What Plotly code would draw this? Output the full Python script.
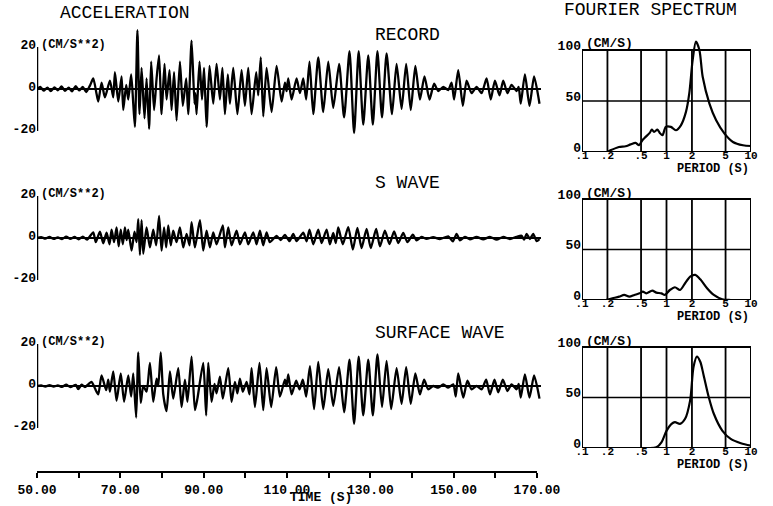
import plotly.graph_objects as go

W, H = 773, 506

# ---------------- data ----------------
# acceleration traces: time (s) and amplitude (cm/s**2) at the visible turning points
record_t = [50.0, 50.8, 51.6, 52.5, 53.3, 54.2, 55.0, 55.9, 56.7, 57.6, 58.4, 59.3, 60.1, 61.0, 61.8, 62.7,
            63.5, 64.3, 64.7, 65.5, 66.3, 67.5, 68.3, 68.7, 69.5, 70.3, 70.7, 71.4, 71.9, 72.6, 73.1, 73.5,
            74.1, 74.6, 75.1, 75.8, 76.3, 76.9, 77.4, 78.1, 78.7, 79.3, 79.9, 80.6, 81.1, 81.8, 82.3, 82.9,
            83.5, 84.3, 85.0, 85.8, 86.3, 87.1, 87.8, 88.0, 88.3, 89.0, 89.6, 90.1, 90.7, 91.4, 92.3, 93.1,
            93.9, 94.5, 95.1, 95.8, 96.3, 97.1, 98.1, 99.1, 99.9, 100.7, 101.5, 102.6, 103.1, 103.7, 104.3, 105.1,
            106.3, 107.5, 108.7, 109.5, 109.9, 110.3, 111.1, 112.3, 113.1, 113.9, 114.6, 115.4, 116.3, 117.5,
            118.7, 119.9, 121.1, 122.5, 123.7, 125.0, 126.1, 127.2, 128.3, 129.5, 130.6, 131.7, 132.8, 133.9,
            135.2, 136.3, 137.5, 138.6, 139.7, 140.8, 141.9, 143.0, 144.2, 145.3, 146.3, 147.5, 148.7, 149.5,
            150.1, 151.1, 152.2, 153.1, 154.3, 155.5, 156.7, 157.9, 158.9, 159.9, 161.0, 161.9, 162.9, 163.9,
            165.1, 165.6, 166.1, 167.1, 168.2, 169.3, 170.6]
record_a = [0, 1.0, -0.8, 0.7, -1.0, 0.8, -0.6, 1.2, -0.9, 0.6, -1.1, 1.4, -0.7, 1.0, -1.5, 1.6,
            5, -2.4, -6, 3, -4, 4, -4, 8, -6, 6, -10, 2, -5, 7, -7, -18,
            28, -12, 10, -14, 5, -19, 13, -10, 5, 16, -12, 12, -5, 9, -10, 8,
            -15, 13, -8, 5, -12, 23, -7, -2, -12, 13, -5, 10, -18, 11, -7, 12,
            -5, 10, -12, 7, -7, 10, -12, 9, -8, 10, -12, 8, -3, 15, -13, 10,
            -11, 11, -6, 3, -1, 5, -5, 5, -2, 5, -5, 13, -12, 15,
            -11, 13, -9, 12, -13.5, 18, -21, 18, -17, 16, -17, 18, -13.5, 17,
            -12, 12, -9.5, 12, -10, 11, -5, 6, -5, 2.5, -1, 1, -0.5, 3,
            -5, 9, -8, 4, -2, 1, -2, 5, -5, 4, -3, 4, -2, 2,
            -1, 1, -7, 7, -8, 6, -7]

swave_t = [50, 51, 52, 53, 54, 55, 56, 57, 58, 59, 60, 61, 62,
           63.5, 64.1, 65.1, 65.9, 66.7, 67.4, 67.9, 68.5, 69.1, 69.6, 70.1, 70.6, 71.1, 71.5, 71.9, 72.7,
           73.4, 73.9, 74.3, 74.7, 75.1, 75.5, 76.3, 77.1, 77.9, 78.6, 79.3, 79.9, 80.5, 81.0, 81.5, 82.1,
           82.7, 83.5, 84.3, 85.1, 85.9, 86.6, 87.1, 87.9, 89.1, 89.9, 90.7, 91.5, 92.3, 93.1, 94.6, 95.1,
           95.9, 96.7, 97.9, 98.7, 99.9, 100.7, 101.9, 102.7, 103.5, 104.3, 105.1, 105.9,
           107.5, 108.5, 109.5, 110.6, 111.5, 112.3, 113.9, 114.7, 115.4, 116.3, 117.5, 118.3, 119.5, 120.3,
           121.1, 121.7, 122.3, 123.4, 124.7, 125.8, 126.9, 127.9, 129.1, 130.1, 131.4, 132.3, 133.5, 134.6,
           135.7, 136.7, 137.9, 138.9, 140.2, 141.1, 142.3, 143.5, 145.1, 146.7, 148.7, 149.8, 150.7, 151.5,
           152.7, 153.9, 155.5, 157.1, 158.7, 160.3, 161.9, 163.5, 165.1, 166.3, 166.9, 167.5, 168.3, 169.1,
           169.9, 170.6]
swave_a = [0, 0.4, -0.3, 0.5, -0.4, 0.3, -0.5, 0.6, -0.4, 0.5, -0.6, 0.7, -0.8,
           2.7, -2, 3, -2.5, 2.5, -3, 4, -2, 5, -4, 4, -3, 5, -1, 4, -6,
           3, -2, 9, -8, 8.5, -7.5, 5, -4.5, 4, -3.5, 10.5, -6, 5, -4.5, 6, -3.5,
           3.5, -2, 5, -4.5, 2, -3.5, 7.5, -4.5, 8.5, -6, 3.5, -4.5, 2.7, -3, 6, -4.5,
           5, -3.5, 3.5, -3, 2.7, -3, 2.7, -3, 3.5, -3.5, 2.7, -2,
           1, -1, 1.5, -1.5, 2, -1.5, 2.5, -1.6, 4, -3, 4, -2.4, 4, -3,
           2.4, -2.4, 5, -3, 5.2, -5.5, 4.8, -4.8, 4.3, -4.8, 4.3, -4, 3.5, -2.9,
           3.2, -2.4, 2.4, -2, 1.6, -1.1, 0.5, -0.4, 0.4, -0.5, 0.8, -1.6, 2, -1.1,
           0.5, -0.6, 0.5, -0.6, 0.5, -0.8, 0.5, -0.5, 0.6, 1.1, -0.8, 2, -0.5, 2,
           -1.5, -0.5]

surface_t = [50, 51, 52, 53, 54, 55, 56, 57, 58, 59.3, 59.9, 60.7, 61.5, 62.3,
             63.1, 63.9, 64.7, 65.5, 66.6, 67.1, 67.5, 68.3, 69.1, 70.1, 70.9, 71.9, 72.6, 73.1, 73.8,
             74.3, 74.9, 75.5, 76.3, 77.1, 77.9, 78.7, 79.1, 79.7, 80.3, 81.1, 81.9, 82.7, 83.9, 84.7,
             85.5, 86.1, 87.1, 87.9, 88.5, 89.9, 90.6, 91.1, 91.9, 92.6, 93.1, 93.9, 94.6, 95.9, 96.7,
             97.5, 98.1, 98.7, 99.4, 100.3, 101.0, 101.5, 102.3, 103.4, 104.3, 105.1, 106.2,
             107.4, 108.3, 109.5, 109.9, 110.3, 111.1, 112.2, 113.0, 113.8, 114.6, 115.5, 116.5, 117.5, 118.7,
             119.9, 121.1, 122.5, 123.7, 125.0, 126.1, 127.2, 128.3, 129.5, 130.6, 131.7, 132.8, 133.9, 135.0,
             136.3, 137.5, 138.6, 139.7, 140.8, 141.9, 142.9, 143.9, 145.1, 146.3, 147.5, 148.7, 149.9, 150.5,
             151.1, 152.3, 153.3, 154.3, 155.5, 156.7, 157.8, 158.7, 159.8, 160.7, 161.8, 162.9, 163.9, 165.1,
             165.6, 166.1, 167.1, 168.2, 169.3, 170.6]
surface_a = [0, 0.3, -0.3, 0.4, -0.3, 0.3, -0.4, 0.6, -0.5, 0.5, -1.5, 0.6, -0.5, 0.8,
             2, -1.1, -4, 5, -2, 3, -2.7, 7, -7, 6, -7.5, 5, -5, 6, -15,
             16, -8, 0, -2.7, 11, -7.5, 3.5, 0, 16, -4, -12, 7, -6, 8.5, -10,
             3, -7.5, 14, -11.5, -6, 11, -14, 11, -7.5, 1, -3.5, 4.5, -6, 8.5, -7.5,
             2, -3.5, 3.5, -2.7, 2, -4, 8.5, -10, 11, -11.5, 8.5, -10,
             9, -5, 3, 0, 5.5, -4, 2.5, -1.6, 3, -5, 9.5, -11, 11.5, -11,
             8, -9.5, 9, -12.5, 12.5, -18, 14, -14, 12.5, -14, 15, -10, 12, -11,
             8.5, -8.5, 9, -8.5, 6, -4, 3, -1.6, 0, -0.8, 0.8, -0.8, 0.8, -5,
             6, -5.5, 2.5, -1.6, 0, -1.6, 3, -4, 3, -3, 3, -2.4, 0.8, -1.6,
             1, -5.5, 5.5, -5.5, 5, -6]

# Fourier spectra: period (s) and amplitude (cm/s)
spec_record_T = [0.199, 0.217, 0.273, 0.328, 0.376, 0.431, 0.473, 0.518, 0.567, 0.633, 0.669, 0.713, 0.781,
                 0.833, 0.896, 0.982, 1.127, 1.29, 1.48, 1.70, 1.86, 2.04, 2.23, 2.45, 2.68, 3.22, 3.87,
                 4.86, 6.11, 8.03, 10.0]
spec_record_A = [0, 1.6, 4.9, 5.6, 7.5, 8.9, 6.6, 11.5, 14.8, 18.7, 21.9, 19.7, 21.9,
                 18.7, 16.4, 24.6, 24.6, 21.3, 26.2, 39.3, 57.4, 90.2, 108.2, 100, 73.8, 47.5, 31.1,
                 18, 9.8, 6.6, 5.9]
spec_swave_T = [0.191, 0.229, 0.275, 0.316, 0.363, 0.417, 0.479, 0.525, 0.575, 0.679, 0.759, 0.871, 0.955,
                1.096, 1.259, 1.445, 1.66, 1.905, 2.19, 2.51, 3.02, 3.63, 4.57, 5.75, 10.0]
spec_swave_A = [0, 1.7, 3.3, 5, 3.3, 5, 6.6, 8.3, 6.6, 9.3, 7.3, 6.6, 5,
                9.9, 12.6, 9.9, 16.6, 23.2, 24.8, 20.5, 11.6, 5, 0.7, 0, 0]
spec_surface_T = [0.631, 0.759, 0.871, 1.0, 1.148, 1.259, 1.445, 1.66, 1.905, 2.09, 2.29, 2.51, 2.75,
                  3.16, 3.63, 4.57, 5.75, 7.59, 10.0]
spec_surface_A = [0, 0.7, 5.6, 17, 23.9, 25.6, 23.9, 28.9, 47.2, 80.4, 90.4, 85.4, 72.1,
                  50.5, 33.9, 17.3, 9, 4.7, 2.3]

time_ticks = [50, 60, 70, 80, 90, 100, 110, 120, 130, 140, 150, 160, 170]
time_ticklabels = ["50.00", "", "70.00", "", "90.00", "", "110.00", "", "130.00", "", "150.00", "", "170.00"]
amp_ticks = [-20, 0, 20]
amp_ticklabels = ["-20", "0", "20"]
period_ticks = [0.1, 0.2, 0.5, 1, 2, 5, 10]
period_ticklabels = [".1", ".2", ".5", "1", "2", "5", "10"]
period_grid = [0.2, 0.5, 1, 2, 5]
spec_ticks = [0, 50, 100]
spec_ticklabels = ["0", "50", "100"]

for a, b in [(record_t, record_a), (swave_t, swave_a), (surface_t, surface_a),
             (spec_record_T, spec_record_A), (spec_swave_T, spec_swave_A), (spec_surface_T, spec_surface_A)]:
    assert len(a) == len(b), (len(a), len(b))

# ---------------- layout helpers ----------------
MONO = "Liberation Mono, DejaVu Sans Mono, monospace"
BLACK = "black"


def ydom(zero_px, ppu, lo, hi):
    return [1 - (zero_px - lo * ppu) / H, 1 - (zero_px - hi * ppu) / H]


def py(p):
    return 1 - p / H


TIME_X0, PX_PER_S = 37.0, 4.1667
T_RANGE = [50, 171]
time_xdom = [TIME_X0 / W, (TIME_X0 + (T_RANGE[1] - T_RANGE[0]) * PX_PER_S) / W]
spec_xdom = [582 / W, 751 / W]

time_panels = [
    dict(t=record_t, a=record_a, zero=89, ppu=2.1, title="RECORD", title_y=35),
    dict(t=swave_t, a=swave_a, zero=238, ppu=2.1, title="S WAVE", title_y=183),
    dict(t=surface_t, a=surface_a, zero=386, ppu=2.1, title="SURFACE WAVE", title_y=333),
]
spec_panels = [
    dict(T=spec_record_T, A=spec_record_A, zero=152, ppu=1.02),
    dict(T=spec_swave_T, A=spec_swave_A, zero=300, ppu=1.01),
    dict(T=spec_surface_T, A=spec_surface_A, zero=448, ppu=1.01),
]

fig = go.Figure()
layout = dict(template="none", width=W, height=H, margin=dict(l=0, r=0, t=0, b=0, pad=0),
              paper_bgcolor="white", plot_bgcolor="rgba(0,0,0,0)", showlegend=False,
              font=dict(family=MONO, color=BLACK))
shapes, annotations = [], []

lbl_font = dict(family=MONO, size=13, color=BLACK, weight="bold")
small_font = dict(family=MONO, size=12, color=BLACK, weight="bold")
tiny_font = dict(family=MONO, size=11, color=BLACK, weight="bold")
title_font = dict(family=MONO, size=18, color=BLACK)

for i, p in enumerate(time_panels):
    n = i + 1
    xa, ya = ("x" if n == 1 else f"x{n}"), ("y" if n == 1 else f"y{n}")
    fig.add_trace(go.Scatter(x=p["t"], y=p["a"], mode="lines", xaxis=xa, yaxis=ya,
                             line=dict(color=BLACK, width=2.3, shape="spline", smoothing=0.6),
                             hoverinfo="skip"))
    xkey, ykey = ("xaxis" if n == 1 else f"xaxis{n}"), ("yaxis" if n == 1 else f"yaxis{n}")
    layout[xkey] = dict(domain=time_xdom, range=T_RANGE, anchor=ya, visible=False, automargin=False,
                        showgrid=False, zeroline=False)
    layout[ykey] = dict(domain=ydom(p["zero"], p["ppu"], -24, 32), range=[-24, 32], anchor=xa,
                        automargin=False,
                        tickvals=amp_ticks, ticktext=amp_ticklabels, tickfont=lbl_font,
                        ticks="", showgrid=False, showline=False, ticklabelshift=-3,
                        zeroline=True, zerolinecolor=BLACK, zerolinewidth=2)
    # vertical amplitude axis (-20 .. 20)
    shapes.append(dict(type="line", xref=xa, yref=ya, x0=T_RANGE[0], x1=T_RANGE[0],
                       y0=amp_ticks[0], y1=amp_ticks[-1], line=dict(color=BLACK, width=2.5)))
    annotations.append(dict(text="(CM/S**2)", xref="paper", yref="paper", x=39 / W,
                            y=py(p["zero"] - 20 * p["ppu"] - 2), xanchor="left", yanchor="middle",
                            showarrow=False, font=small_font))
    annotations.append(dict(text=p["title"], xref="paper", yref="paper", x=373 / W, y=py(p["title_y"]),
                            xanchor="left", yanchor="middle", showarrow=False, font=title_font))

# bottom time axis (drawn on the surface-wave x axis)
axis_y = py(472)
layout["xaxis3"].update(visible=True, anchor="free", position=axis_y, tickvals=time_ticks,
                        ticktext=time_ticklabels, ticks="outside", ticklen=5, tickwidth=2,
                        tickcolor=BLACK, showline=False, tickfont=lbl_font)
shapes.append(dict(type="line", xref="x3", yref="paper", x0=time_ticks[0], x1=time_ticks[-1],
                   y0=axis_y, y1=axis_y, line=dict(color=BLACK, width=2)))
annotations.append(dict(text="TIME (S)", xref="paper", yref="paper", x=321 / W, y=py(497),
                        xanchor="center", yanchor="middle", showarrow=False, font=lbl_font))
annotations.append(dict(text="ACCELERATION", xref="paper", yref="paper", x=58 / W, y=py(13),
                        xanchor="left", yanchor="middle", showarrow=False, font=title_font))
annotations.append(dict(text="FOURIER SPECTRUM", xref="paper", yref="paper", x=562 / W, y=py(10),
                        xanchor="left", yanchor="middle", showarrow=False, font=title_font))

for i, p in enumerate(spec_panels):
    n = i + 4
    xa, ya = f"x{n}", f"y{n}"
    fig.add_trace(go.Scatter(x=p["T"], y=p["A"], mode="lines", xaxis=xa, yaxis=ya,
                             line=dict(color=BLACK, width=2.2, shape="spline", smoothing=0.8),
                             hoverinfo="skip"))
    layout[f"xaxis{n}"] = dict(domain=spec_xdom, type="log", range=[-1, 1], anchor=ya,
                               automargin=False,
                               tickvals=period_ticks, ticktext=period_ticklabels, tickfont=tiny_font,
                               ticks="", showgrid=False, showline=False, zeroline=False,
                               ticklabelstandoff=-5)
    layout[f"yaxis{n}"] = dict(domain=ydom(p["zero"], p["ppu"], 0, 114), range=[0, 114], anchor=xa,
                               automargin=False,
                               tickvals=spec_ticks, ticktext=spec_ticklabels, tickfont=lbl_font,
                               ticks="", showgrid=False, showline=False, zeroline=False,
                               ticklabelshift=-5)
    # frame and grid
    shapes.append(dict(type="rect", xref=xa, yref=ya, x0=period_ticks[0], x1=period_ticks[-1],
                       y0=spec_ticks[0], y1=spec_ticks[-1], line=dict(color=BLACK, width=2),
                       layer="below"))
    for g in period_grid:
        shapes.append(dict(type="line", xref=xa, yref=ya, x0=g, x1=g, y0=spec_ticks[0],
                           y1=spec_ticks[-1], line=dict(color=BLACK, width=1.8), layer="below"))
    shapes.append(dict(type="line", xref=xa, yref=ya, x0=period_ticks[0], x1=period_ticks[-1],
                       y0=spec_ticks[1], y1=spec_ticks[1], line=dict(color=BLACK, width=1.5),
                       layer="below"))
    top_px = p["zero"] - 100 * p["ppu"]
    annotations.append(dict(text="(CM/S)", xref="paper", yref="paper", x=584 / W, y=py(top_px - 6),
                            xanchor="left", yanchor="middle", showarrow=False, font=lbl_font))
    annotations.append(dict(text="PERIOD (S)", xref="paper", yref="paper", x=713 / W,
                            y=py(p["zero"] + 17), xanchor="center", yanchor="middle",
                            showarrow=False, font=small_font))

layout["shapes"] = shapes
layout["annotations"] = annotations
fig.update_layout(**layout)
# the page itself gets no body margin, so the 773x506 figure fills the window exactly
fig.write_html("out.html", config={"displayModeBar": False},
               post_script="document.body.style.margin='0';")
